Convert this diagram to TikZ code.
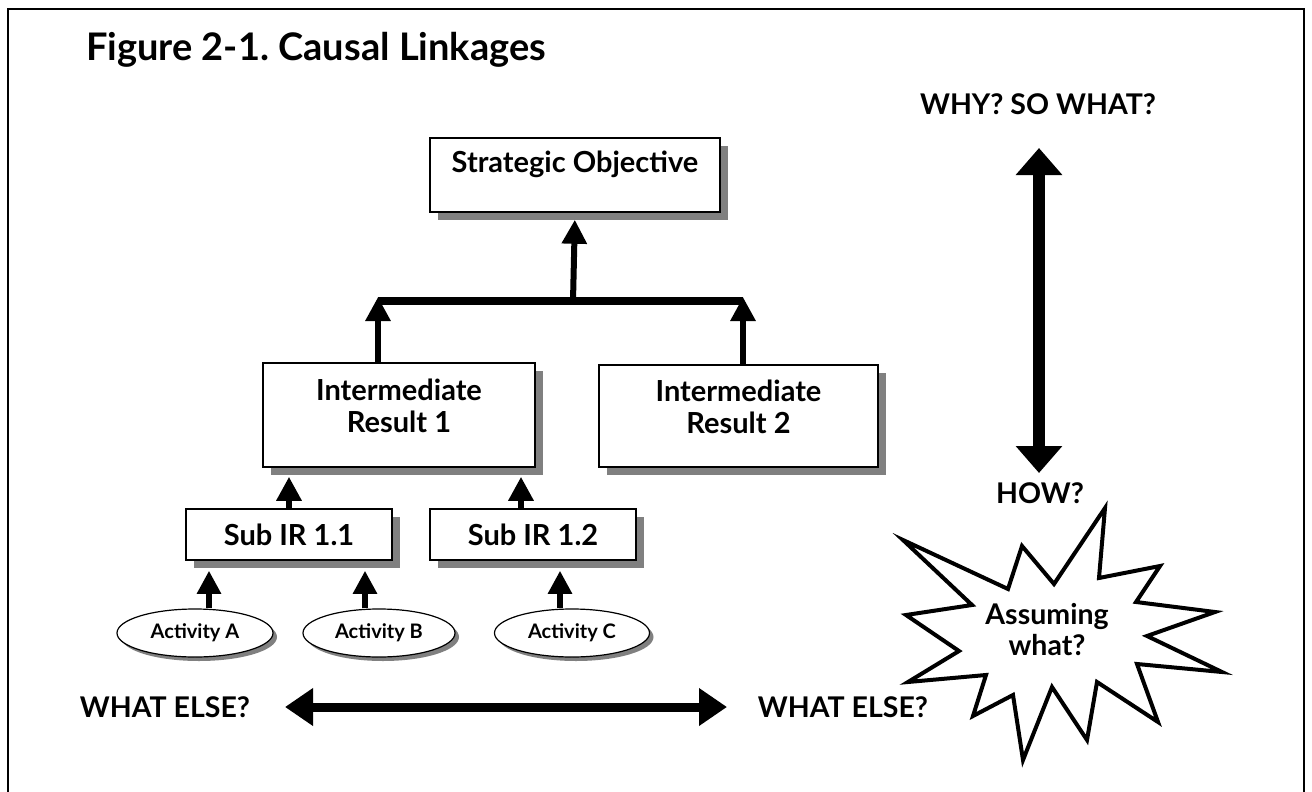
\documentclass[tikz,border=0pt]{standalone}
\usepackage{fontspec}
\setmainfont{Lato}
\usetikzlibrary{arrows.meta}
\usetikzlibrary{shapes.geometric}
\usetikzlibrary{shadows}
\definecolor{shade}{rgb}{0.50, 0.50, 0.50}
\frenchspacing
\newcommand\ttlfont{\fontsize{38}{42}\selectfont\bfseries}
\newcommand\bxfont{\fontsize{29}{32}\selectfont\bfseries}
\newcommand\actfont{\fontsize{20}{22}\selectfont\bfseries}
\newcommand\askfont{\fontsize{28.5}{31}\selectfont\bfseries}
\tikzset{
  box/.style = {rectangle, draw=black, line width=1.5pt, fill=white, inner sep=0pt, align=center, font=\bxfont,
    drop shadow={shadow xshift=8pt, shadow yshift=-8pt, fill=shade, opacity=1}},
  act/.style = {ellipse, draw=black, line width=1.2pt, fill=white, inner sep=0pt, font=\actfont,
    drop shadow={shadow xshift=4pt, shadow yshift=-4pt, fill=shade, opacity=1}},
  ask/.style = {font=\askfont, inner sep=0pt},
  upar/.style = {-{Triangle[width=24pt, length=24pt]}, line width=6pt},
  smallar/.style = {-{Triangle[width=23pt, length=23pt]}, line width=5.5pt},
  vbig/.style = {{Triangle[width=45pt, length=27pt]}-{Triangle[width=45pt, length=27pt]}, line width=12pt},
  hbig/.style = {{Triangle[width=36pt, length=28pt]}-{Triangle[width=36pt, length=28pt]}, line width=9pt},
  burst/.style = {draw=black, line width=4pt, fill=white},
}
\begin{document}
\begin{tikzpicture}[x=1pt, y=-1pt]
	\useasboundingbox (0,0) rectangle (1312,792);
	\draw[line width=2pt] (8,792) -- (8,9) -- (1304,9) -- (1304,792);

	\node[anchor=base west, font=\ttlfont, inner sep=0pt] (title) at (86,61) {Figure 2-1. Causal Linkages};

	% boxes
	\node[box, minimum width=290pt, minimum height=74pt] (so) at (575,175) {Strategic Objective\\[-6pt]~};
	\node[box, minimum width=272pt, minimum height=104pt] (ir1) at (399,415) {Intermediate\\Result 1\\[-14pt]~};
	\node[box, minimum width=279pt, minimum height=102pt] (ir2) at (738.5,416) {Intermediate\\Result 2\\[-14pt]~};
	\node[box, minimum width=206pt, minimum height=51pt] (sub11) at (289,534.5) {Sub IR 1.1};
	\node[box, minimum width=206pt, minimum height=51pt] (sub12) at (533,534.5) {Sub IR 1.2};

	\node[act, minimum width=156pt, minimum height=48pt] (acta) at (195,633) {Activity A};
	\node[act, minimum width=152pt, minimum height=48pt] (actb) at (379,633) {Activity B};
	\node[act, minimum width=155pt, minimum height=48pt] (actc) at (572,633) {Activity C};

	% junction bar
	\coordinate (jl) at (378,297);
	\coordinate (jr) at (743,297);
	\draw[line width=7.5pt] (378,301) -- (743,301);
	\draw[upar] (573,301) -- (so.south) [shorten >=7pt];
	\draw[upar] (ir1.north -| jl) -- (jl);
	\draw[upar] (ir2.north -| jr) -- (jr);

	\draw[upar, shorten >=9pt] (sub11.north) -- (sub11.north |- ir1.south);
	\draw[upar, shorten >=9pt] ([xshift=-12pt]sub12.north) -- ([xshift=-12pt]sub12.north |- ir1.south);

	\draw[smallar, shorten >=10pt] ([xshift=14pt]acta.north) -- ([xshift=14pt]acta.north |- sub11.south);
	\draw[smallar, shorten >=10pt] ([xshift=-14pt]actb.north) -- ([xshift=-14pt]actb.north |- sub11.south);
	\draw[smallar, shorten >=10pt] ([xshift=-12pt]actc.north) -- ([xshift=-12pt]actc.north |- sub12.south);

	% questions
	\node[ask, anchor=base] (why) at (1038,114) {WHY? SO WHAT?};
	\node[ask, anchor=base] (how) at (1040,503) {HOW?};
	\coordinate (vtop) at (1039,148);
	\coordinate (vbot) at (1039,473);
	\draw[vbig] (vtop) -- (vbot);

	\node[ask, anchor=base] (elsel) at (165,717) {WHAT ELSE?};
	\node[ask, anchor=base] (elser) at (843,717) {WHAT ELSE?};
	\coordinate (hl) at (285,707);
	\coordinate (hr) at (727,707);
	\draw[hbig] (hl) -- (hr);

	% starburst
	\draw[burst] (903,540) -- (1008,589) -- (1022,546) -- (1054,584) -- (1105,508) -- (1099,578)
		-- (1160,566) -- (1136,602) -- (1215,612) -- (1147,636) -- (1222,672) -- (1137,664)
		-- (1158,722) -- (1097,682) -- (1087,740) -- (1052,687) -- (1023,760) -- (1013,695)
		-- (973,716) -- (986,675) -- (908,682) -- (959,651) -- (906,615) -- (972,605) -- cycle;
	\node[ask, align=center] (assume) at (1047,630) {Assuming\\what?};

\end{tikzpicture}
\end{document}
